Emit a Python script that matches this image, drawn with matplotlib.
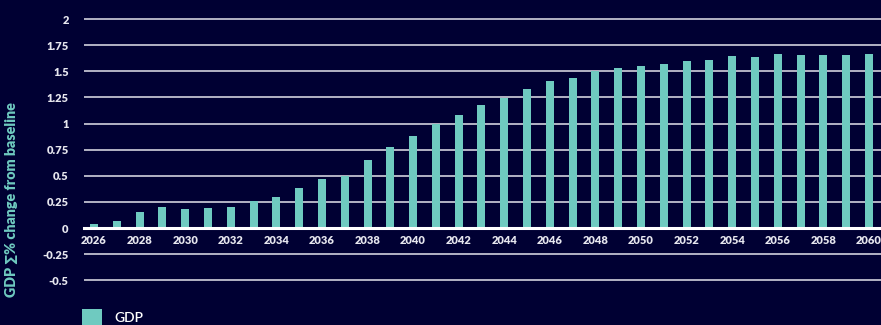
import matplotlib
matplotlib.use("Agg")
import matplotlib.pyplot as plt
from matplotlib.patches import Rectangle

years = list(range(2026, 2061))
gdp = [0.04, 0.065, 0.15, 0.20, 0.18, 0.19, 0.20, 0.26, 0.30, 0.38,
       0.47, 0.50, 0.65, 0.78, 0.88, 1.00, 1.08, 1.18, 1.24, 1.33,
       1.41, 1.44, 1.50, 1.53, 1.55, 1.57, 1.60, 1.61, 1.65, 1.64,
       1.67, 1.66, 1.66, 1.66, 1.67]
yticks = [-0.5, -0.25, 0, 0.25, 0.5, 0.75, 1, 1.25, 1.5, 1.75, 2]
ytick_labels = ["-0.5", "-0.25", "0", "0.25", "0.5", "0.75", "1", "1.25", "1.5", "1.75", "2"]
xtick_years = list(range(2026, 2061, 2))

BG = "#000033"
TEAL = "#6fcac0"
FONT = ["Lato", "DejaVu Sans"]
plt.rcParams['font.family'] = FONT

fig = plt.figure(figsize=(8.81, 3.25), dpi=100, facecolor=BG)
ax = fig.add_axes([84/881, 0.1215, 1 - 84/881, 0.836], facecolor=BG)

ax.bar(years, gdp, width=0.35, color=TEAL, zorder=3)

ax.set_ylim(-0.55, 2.05)
ax.set_xlim(2025.56, 2060.53)
ax.set_yticks(yticks)
ax.set_yticklabels(ytick_labels)
ax.set_xticks(xtick_years)
ax.set_xticklabels([str(y) for y in xtick_years])

for y in yticks:
    if y == 0:
        continue
    ax.axhline(y, color="#e8e8f0", lw=1.2, zorder=1, alpha=0.9)

for s in ["top", "right", "left"]:
    ax.spines[s].set_visible(False)
ax.spines["bottom"].set_position(("data", 0))
ax.spines["bottom"].set_color("white")
ax.spines["bottom"].set_linewidth(2.2)
ax.spines["bottom"].set_zorder(4)

ax.tick_params(axis="y", length=0, pad=11, labelsize=8, labelcolor="#e6e6ee")
ax.tick_params(axis="x", length=0, pad=5, labelsize=8, labelcolor="#e6e6ee")
for lab in ax.get_xticklabels() + ax.get_yticklabels():
    lab.set_fontweight("heavy")

fig.text(12/881, 0.385, "GDP \u2211% change from baseline", rotation=90,
         color=TEAL, fontsize=10.3, fontweight="heavy", ha="center", va="center",
         family=FONT)

# legend
fig.patches.append(Rectangle((82/881, 0), 20/881, 16/325, transform=fig.transFigure,
                             facecolor=TEAL, edgecolor="none"))
fig.text(114/881, (325-318)/325, "GDP", color="white", fontsize=10,
         fontweight="semibold", ha="left", va="center", family=FONT)

fig.savefig("out.png", dpi=100, facecolor=BG)
